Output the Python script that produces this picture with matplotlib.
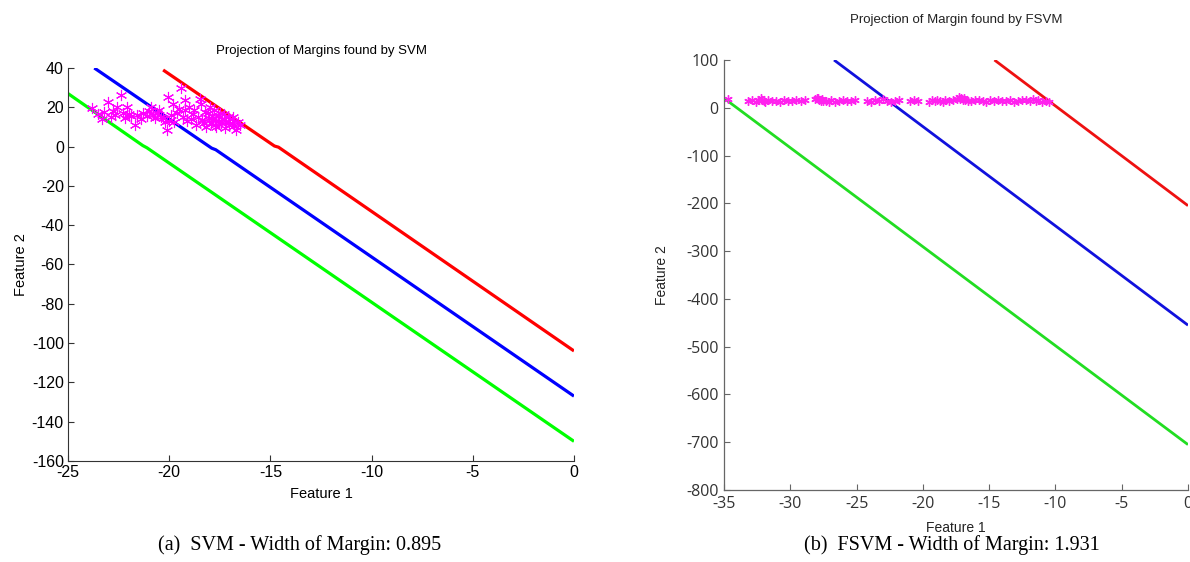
import matplotlib.pyplot as plt

plt.rcParams["axes.unicode_minus"] = False

# ---- left panel (SVM) data ----
svm_xlim = [-25, 0]
svm_ylim = [-160, 40]
svm_xticks = [-25, -20, -15, -10, -5, 0]
svm_yticks = [-160, -140, -120, -100, -80, -60, -40, -20, 0, 20, 40]

svm_red_x = [-20.3, -14.8, -14.6, 0]
svm_red_y = [39.0, 0.3, -0.3, -104.0]
svm_blue_x = [-23.7, -17.9, -17.7, 0]
svm_blue_y = [40.0, -0.8, -1.6, -127.0]
svm_green_x = [-25.0, -21.3, -21.1, 0]
svm_green_y = [27.0, 0.5, -0.6, -150.0]

svm_pts_x = [-23.8, -23.5, -23.3, -23.2, -23.0, -22.9, -22.8, -22.7, -22.6, -22.4,
             -22.3, -22.2, -22.1, -22.0, -21.9, -21.7, -21.6, -21.4, -21.3, -21.1,
             -21.0, -20.9, -20.8, -20.7, -20.6, -20.5, -20.4, -20.3, -20.2, -20.1,
             -20.05, -20.0, -19.9, -19.8, -19.75, -19.6, -19.5, -19.43, -19.3, -19.2,
             -19.2, -19.1, -19.0, -18.9, -18.8, -18.75, -18.7, -18.6, -18.5, -18.45,
             -18.4, -18.3, -18.25, -18.2, -18.1, -18.05, -18.0, -17.95, -17.9, -17.85,
             -17.8, -17.75, -17.7, -17.6, -17.55, -17.5, -17.45, -17.4, -17.3, -17.25,
             -17.2, -17.1, -17.05, -17.0, -16.9, -16.85, -16.8, -16.7, -16.6, -16.5]
svm_pts_y = [19.5, 16.5, 14.0, 17.5, 22.9, 15.0, 18.0, 16.0, 20.3, 26.3,
             17.0, 14.5, 20.0, 16.6, 15.5, 11.0, 16.0, 14.0, 17.0, 15.5,
             18.0, 20.3, 16.0, 14.5, 17.0, 18.5, 15.0, 14.5, 12.5, 8.4,
             25.4, 13.0, 16.0, 21.8, 12.5, 17.0, 19.0, 29.7, 15.0, 23.5,
             18.5, 13.0, 20.0, 14.0, 16.5, 18.5, 11.0, 15.0, 24.0, 21.8,
             13.5, 12.0, 17.5, 10.0, 17.0, 14.5, 20.0, 12.0, 15.5, 14.0,
             18.5, 11.0, 10.0, 16.0, 13.0, 17.0, 12.0, 14.0, 16.5, 9.5,
             12.5, 15.0, 11.0, 14.0, 12.0, 15.0, 10.5, 8.5, 12.5, 11.0]

# ---- right panel (FSVM) data ----
fsvm_xlim = [-35, 0]
fsvm_ylim = [-800, 100]
fsvm_xticks = [-35, -30, -25, -20, -15, -10, -5, 0]
fsvm_yticks = [-800, -700, -600, -500, -400, -300, -200, -100, 0, 100]

fsvm_red_x = [-14.6, 0]
fsvm_red_y = [100.0, -205.0]
fsvm_blue_x = [-26.7, 0]
fsvm_blue_y = [100.0, -455.0]
fsvm_green_x = [-35.0, 0]
fsvm_green_y = [20.0, -705.0]

fsvm_pts_x = [-34.7, -33.2, -32.9, -32.6, -32.4, -32.2, -32.1, -32.0, -31.9, -31.7,
              -31.4, -31.1, -30.8, -30.5, -30.2, -29.9, -29.6, -29.2, -28.9, -28.1,
              -28.0, -27.9, -27.8, -27.7, -27.6, -27.5, -27.3, -27.1, -26.9, -26.6,
              -26.3, -26.0, -25.7, -25.4, -25.1, -24.2, -23.9, -23.6, -23.3, -23.0,
              -22.7, -22.4, -22.1, -21.8, -21.0, -20.7, -20.4, -19.5, -19.3, -19.1,
              -18.9, -18.7, -18.5, -18.3, -18.0, -17.7, -17.4, -17.3, -17.2, -17.1,
              -17.0, -16.9, -16.8, -16.6, -16.4, -16.1, -15.8, -15.5, -15.2, -14.9,
              -14.6, -14.3, -14.0, -13.7, -13.4, -13.1, -12.8, -12.5, -12.2, -11.9,
              -11.7, -11.5, -11.3, -11.0, -10.7, -10.5]
fsvm_pts_y = [18, 14, 16, 13, 17, 20, 16, 15, 13, 16,
              14, 15, 13, 16, 14, 15, 17, 14, 16, 18,
              20, 21, 17, 15, 19, 14, 15, 12, 16, 13,
              14, 16, 15, 14, 17, 15, 13, 16, 14, 18,
              15, 12, 14, 16, 15, 17, 14, 13, 16, 14,
              17, 15, 13, 16, 14, 16, 18, 22, 19, 21,
              16, 20, 17, 15, 14, 16, 17, 15, 13, 16,
              14, 17, 15, 14, 16, 13, 15, 17, 16, 14,
              18, 15, 16, 13, 15, 12]

W, H = 1190, 562
fig = plt.figure(figsize=(W / 100, H / 100), dpi=100)

# left panel
ax = fig.add_axes([68 / W, 1 - 461 / H, 506 / W, 393 / H])
ax.plot(svm_red_x, svm_red_y, color="#ff0000", lw=2.3, solid_capstyle="butt")
ax.plot(svm_blue_x, svm_blue_y, color="#0000ff", lw=2.3, solid_capstyle="butt")
ax.plot(svm_green_x, svm_green_y, color="#00ff00", lw=2.3, solid_capstyle="butt")
ax.plot(svm_pts_x, svm_pts_y, ls="none", marker=(6, 2, 0), color="#ff00ff",
        ms=8, mew=0.8)
ax.set_xlim(svm_xlim)
ax.set_ylim(svm_ylim)
ax.set_xticks(svm_xticks)
ax.set_yticks(svm_yticks)
ax.spines[["top", "right"]].set_visible(False)
for s in ["left", "bottom"]:
    ax.spines[s].set_color("#333333")
    ax.spines[s].set_linewidth(0.8)
ax.tick_params(direction="in", length=4, width=0.8, color="#333333",
               labelsize=11.5, pad=3, labelfontfamily="Liberation Sans")
ax.set_title("Projection of Margins found by SVM", fontsize=9.5,
             family="Liberation Sans", pad=10)
ax.set_xlabel("Feature 1", fontsize=10.5, family="Liberation Sans", labelpad=5)
ax.set_ylabel("Feature 2", fontsize=10.5, family="Liberation Sans", labelpad=3)

# right panel
ax = fig.add_axes([724 / W, 1 - 490 / H, 464 / W, 430 / H])
ax.plot(fsvm_red_x, fsvm_red_y, color="#ee1111", lw=2.0, solid_capstyle="butt")
ax.plot(fsvm_blue_x, fsvm_blue_y, color="#1111dd", lw=2.0, solid_capstyle="butt")
ax.plot(fsvm_green_x, fsvm_green_y, color="#22dd22", lw=2.0, solid_capstyle="butt")
ax.plot(fsvm_pts_x, fsvm_pts_y, ls="none", marker=(6, 2, 0), color="#ff22ee",
        ms=6, mew=1.0)
ax.set_xlim(fsvm_xlim)
ax.set_ylim(fsvm_ylim)
ax.set_xticks(fsvm_xticks)
ax.set_yticks(fsvm_yticks)
ax.spines[["top", "right"]].set_visible(False)
for s in ["left", "bottom"]:
    ax.spines[s].set_color("#666666")
    ax.spines[s].set_linewidth(0.9)
ax.tick_params(direction="in", length=4, width=0.8, color="#666666",
               labelsize=11.5, labelcolor="#333333", pad=4,
               labelfontfamily="Open Sans")
ax.set_title("Projection of Margin found by FSVM", fontsize=9.5,
             family="Liberation Sans", color="#222222", pad=27)
ax.set_xlabel("Feature 1", fontsize=10, family="Liberation Sans",
              color="#222222", labelpad=7)
ax.set_ylabel("Feature 2", fontsize=10, family="Liberation Sans",
              color="#222222", labelpad=12)

# captions
fig.text(300 / W, 1 - 545 / H, "(a)  SVM - Width of Margin: 0.895",
         ha="center", va="center", fontsize=14.5, family="Liberation Serif")
fig.text(952 / W, 1 - 545 / H, "(b)  FSVM - Width of Margin: 1.931",
         ha="center", va="center", fontsize=14.5, family="Liberation Serif")

fig.savefig("out.png", dpi=100)
